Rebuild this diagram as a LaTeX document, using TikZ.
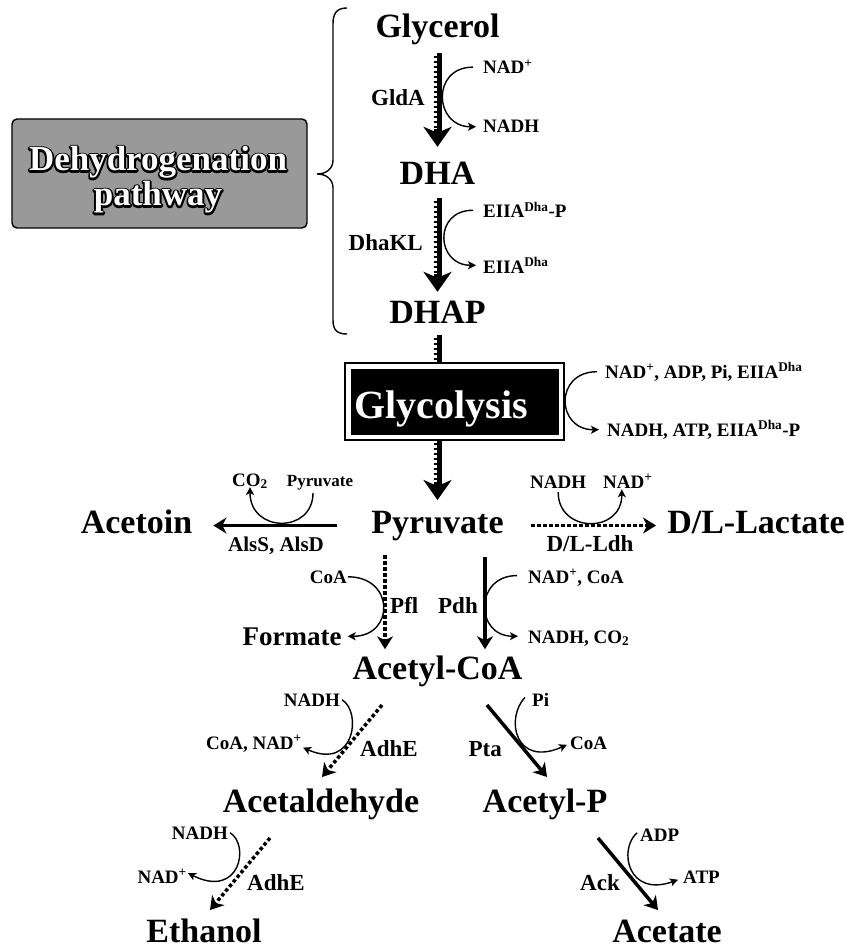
\documentclass[tikz,border=0pt]{standalone}
\usepackage{fontspec}
\setmainfont{Liberation Serif}
\usetikzlibrary{arrows.meta}
\newcommand\outlinedword[1]{\rlap{\special{pdf:literal direct 1 Tr 3.6 w 1 j 0 G}#1\special{pdf:literal direct 0 Tr}}\textcolor{white}{#1}}
\begin{document}
\begin{tikzpicture}[x=1pt,y=-1pt,
 met/.style={font=\fontsize{34}{36}\selectfont\bfseries, inner sep=0pt, anchor=base},
 enz/.style={font=\fontsize{23}{25}\selectfont\bfseries, inner sep=0pt},
 cof/.style={font=\fontsize{19}{21}\selectfont\bfseries, inner sep=0pt},
 dhtxt/.style={font=\fontsize{35}{37}\selectfont\bfseries, inner sep=0pt, anchor=base},
 curv/.style={line width=1.4pt, -{Stealth[length=8pt,width=8pt,inset=2pt]}},
 solidarr/.style={line width=3.5pt, -{Stealth[length=13pt,width=16pt,inset=4pt]}},
 dotarr/.style={line width=3.5pt, dash pattern=on 3.5pt off 2.5pt, -{Stealth[length=13pt,width=16pt,inset=4pt]}},
 bigarr/.style={line width=8pt, -{Stealth[length=20pt,width=28pt,inset=6pt]}},
 wdash/.style={draw=white, line width=2.2pt, dash pattern=on 2.5pt off 2.5pt},
]
\fill[white] (0,0) rectangle (843,949);
\useasboundingbox (0,0) rectangle (843,949);

% ---------- metabolites ----------
\node[met] (glyc) at (437.5,38) {Glycerol};
\node[met] (dha) at (437.5,185) {DHA};
\node[met] (dhap) at (437.5,323) {DHAP};
\node[met] (pyr) at (437.5,533) {Pyruvate};
\node[met] (acetoin) at (136.5,533) {Acetoin};
\node[met] (lact) at (756,533) {D/L-Lactate};
\node[met] (accoa) at (437.5,679) {Acetyl-CoA};
\node[met] (acald) at (321,812) {Acetaldehyde};
\node[met] (acp) at (545,812) {Acetyl-P};
\node[met] (etoh) at (204,942) {Ethanol};
\node[met] (acetate) at (667,942) {Acetate};
\node[met, font=\fontsize{27}{29}\selectfont\bfseries] (formate) at (292,645) {Formate};

% ---------- enzymes ----------
\node[enz, anchor=base east] (glda) at (425,106) {GldA};
\node[enz, anchor=base east] (dhakl) at (423,251) {DhaKL};
\node[enz, anchor=base, font=\fontsize{21}{23}\selectfont\bfseries] (als) at (276,551) {AlsS, AlsD};
\node[enz, anchor=base] (ldh) at (590,551) {D/L-Ldh};
\node[enz, anchor=base west] (pfl) at (390,613) {Pfl};
\node[enz, anchor=base east] (pdh) at (478,613) {Pdh};
\node[enz, anchor=base west] (adhe1) at (360,756) {AdhE};
\node[enz, anchor=base east] (pta) at (502,756) {Pta};
\node[enz, anchor=base west] (adhe2) at (247,890) {AdhE};
\node[enz, anchor=base east] (ack) at (620,890) {Ack};

% ---------- cofactors ----------
\node[cof, anchor=base west] (nad1) at (483,74) {NAD\textsuperscript{+}};
\node[cof, anchor=base west] (nadh1) at (483,133) {NADH};
\node[cof, anchor=base west] (eiip) at (483,218) {EIIA\textsuperscript{Dha}-P};
\node[cof, anchor=base west] (eii) at (483,273) {EIIA\textsuperscript{Dha}};
\node[cof, anchor=base west] (glin) at (605,378) {NAD\textsuperscript{+}, ADP, Pi, EIIA\textsuperscript{Dha}};
\node[cof, anchor=base west] (glout) at (607,436) {NADH, ATP, EIIA\textsuperscript{Dha}-P};
\node[cof, anchor=base] (co2) at (250,486) {CO\textsubscript{2}};
\node[cof, anchor=base, font=\fontsize{17}{19}\selectfont\bfseries] (pyrs) at (320,486) {Pyruvate};
\node[cof, anchor=base west] (nadhL) at (530,488) {NADH};
\node[cof, anchor=base west] (nadL) at (603,488) {NAD\textsuperscript{+}};
\node[cof, anchor=base east] (coa1) at (347,583) {CoA};
\node[cof, anchor=base west] (nadcoa) at (528,583) {NAD\textsuperscript{+}, CoA};
\node[cof, anchor=base west] (nadhco2) at (528,643) {NADH, CO\textsubscript{2}};
\node[cof, anchor=base east] (nadh2) at (340,706) {NADH};
\node[cof, anchor=base east] (coanad) at (302,749) {CoA, NAD\textsuperscript{+}};
\node[cof, anchor=base west] (pi) at (532,706) {Pi};
\node[cof, anchor=base west] (coa2) at (570,749) {CoA};
\node[cof, anchor=base east] (nadh3) at (228,839) {NADH};
\node[cof, anchor=base east] (nad3) at (187,883) {NAD\textsuperscript{+}};
\node[cof, anchor=base west] (adp) at (640,841) {ADP};
\node[cof, anchor=base west] (atp) at (683,883) {ATP};

% ---------- dehydrogenation pathway ----------
\draw[line width=1.4pt] (347,8) .. controls (337,8) and (333,13) .. (333,24) -- (333,160)
  .. controls (333,169) and (326,174) .. (317,174)
  .. controls (326,174) and (333,179) .. (333,188) -- (333,320)
  .. controls (333,330) and (337,334) .. (347,334);
\node[draw=black, line width=1.4pt, fill=gray!80, rounded corners=5pt, minimum width=295pt, minimum height=109pt, inner sep=0pt] (dhbox) at (159.5,173.5) {};
\node[dhtxt] (dh1) at (158,171) {\outlinedword{Dehydrogenation}};
\node[dhtxt] (dh2) at (158,206) {\outlinedword{pathway}};

% ---------- main combined arrows ----------
\draw[bigarr, shorten <=7.6pt, shorten >=15.5pt] (glyc.south) -- (dha.north);
\draw[wdash, shorten <=7.6pt, shorten >=33pt] ([xshift=-2pt]glyc.south) -- ([xshift=-2pt]dha.north);
\draw[bigarr, shorten <=13pt, shorten >=8.5pt] (dha.south) -- (dhap.north);
\draw[wdash, shorten <=13pt, shorten >=26pt] ([xshift=-2pt]dha.south) -- ([xshift=-2pt]dhap.north);
\draw[bigarr, shorten <=12pt, shorten >=10.5pt] (dhap.south) -- (pyr.north);
\draw[wdash, shorten <=12pt, shorten >=29pt] ([xshift=-2pt]dhap.south) -- ([xshift=-2pt]pyr.north);

% ---------- glycolysis box ----------
\node[fill=white, draw=black, line width=1.5pt, minimum width=219pt, minimum height=77pt, inner sep=0pt] (glybox) at (454.5,401.5) {};
\node[fill=black, minimum width=208pt, minimum height=66pt, inner sep=0pt] (glyin) at (glybox.center) {};
\node[font=\fontsize{40}{42}\selectfont\bfseries, text=white, inner sep=0pt, anchor=base] (gly) at (441,418) {Glycolysis};

% ---------- branch arrows ----------
\draw[solidarr, shorten <=34.5pt, shorten >=21pt] (pyr.west) -- (pyr.west -| acetoin.east);
\draw[dotarr, shorten <=27.5pt, shorten >=11pt] (pyr.east) -- (pyr.east -| lact.west);
\draw[dotarr, shorten <=14.6pt, shorten >=6pt] ([xshift=-52.5pt]pyr.south) -- ([xshift=-52.5pt]accoa.north);
\draw[solidarr, shorten <=16.6pt, shorten >=6pt] ([xshift=47.5pt]pyr.south) -- ([xshift=47.5pt]accoa.north);

\coordinate (d1s) at (382,705); \coordinate (d1e) at (322,777);
\coordinate (d2s) at (487,705); \coordinate (d2e) at (547,777);
\coordinate (d3s) at (270,838); \coordinate (d3e) at (210,910);
\coordinate (d4s) at (598,838); \coordinate (d4e) at (658,910);
\draw[dotarr] (d1s) -- (d1e);
\draw[solidarr] (d2s) -- (d2e);
\draw[dotarr] (d3s) -- (d3e);
\draw[solidarr] (d4s) -- (d4e);

% ---------- cofactor curves ----------
\draw[curv] ([xshift=-10pt]nad1.west) .. controls +(-42,0) and +(-42,0) .. ([xshift=-7pt]nadh1.west);
\draw[curv] ([xshift=-10pt]eiip.west) .. controls +(-40,0) and +(-40,0) .. ([xshift=-7pt]eii.west);
\draw[curv] ([xshift=-8pt]glin.west) .. controls +(-43,0) and +(-43,0) .. ([xshift=-8pt]glout.west);
\draw[curv] ([xshift=-7pt,yshift=-3pt]pyrs.south) .. controls +(0,41) and +(0,46) .. ([yshift=2pt]co2.south);
\draw[curv] ([yshift=-4pt]nadhL.south) .. controls +(0,41) and +(0,45) .. ([xshift=-6pt,yshift=-1pt]nadL.south);
\draw[curv] ([xshift=1pt]coa1.east) .. controls +(47,0) and +(47,0) .. ([xshift=6pt]formate.east);
\draw[curv] ([xshift=-11pt,yshift=2pt]nadcoa.west) .. controls +(-43,0) and +(-43,0) .. ([xshift=-10pt,yshift=2pt]nadhco2.west);
\draw[curv] ([xshift=2pt]nadh2.east) .. controls +(20,12) and +(52,23) .. ([xshift=1pt,yshift=-4pt]coanad.east);
\draw[curv] ([xshift=-7pt,yshift=2pt]pi.west) .. controls +(-20,21) and +(-52,23) .. ([xshift=-3pt,yshift=-2pt]coa2.west);
\draw[curv] ([xshift=2pt]nadh3.east) .. controls +(20,12) and +(52,26) .. ([xshift=1pt,yshift=3pt]nad3.east);
\draw[curv] ([xshift=-3pt,yshift=2pt]adp.west) .. controls +(-19,17) and +(-50,18) .. ([xshift=-5pt,yshift=-3pt]atp.west);
\end{tikzpicture}
\end{document}
